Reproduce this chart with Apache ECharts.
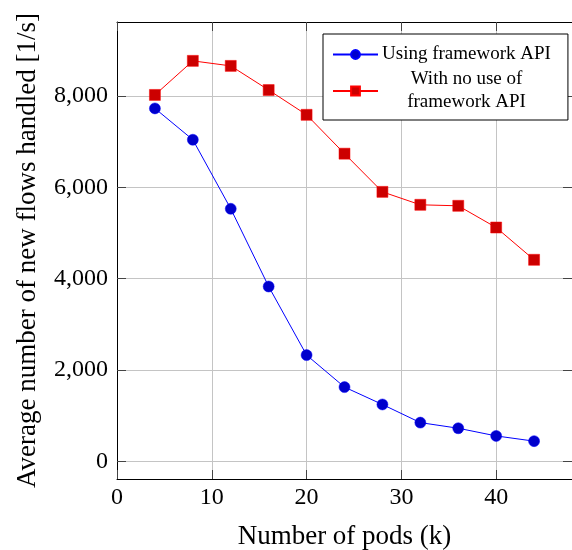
<!DOCTYPE html>
<html>
<head>
<meta charset="utf-8">
<script src="https://cdn.jsdelivr.net/npm/echarts@6/dist/echarts.min.js"></script>
<style>
html,body{margin:0;padding:0;background:#fff;}
#chart{width:572px;height:550px;}
</style>
</head>
<body>
<div id="chart"></div>
<script>
const pods = [4, 8, 12, 16, 20, 24, 28, 32, 36, 40, 44];
const usingApi = [7725, 7040, 5530, 3830, 2330, 1630, 1250, 853, 730, 562, 448];
const noApi = [8020, 8765, 8655, 8127, 7585, 6735, 5900, 5617, 5595, 5120, 4414];
const seriesNames = ['Using framework API', 'With no use of\nframework API'];
const xTicks = [0, 10, 20, 30, 40];
const yTicks = [0, 2000, 4000, 6000, 8000];

const FONT = 'Liberation Serif';
const chart = echarts.init(document.getElementById('chart'), null, {renderer: 'canvas'});

function pairs(xs, ys) { return xs.map((x, i) => [x, ys[i]]); }

const axisLineStyle = {show: true, onZero: false, lineStyle: {color: '#000', width: 1}};
function tickStyle(vals) {
  return {show: true, inside: true, length: 9, customValues: vals, lineStyle: {color: '#444', width: 1}};
}

chart.setOption({
  animation: false,
  grid: {left: 117, top: 22, right: 0, bottom: 71, containLabel: false, outerBoundsMode: 'none'},
  legend: {
    orient: 'vertical',
    left: 323,
    top: 34,
    padding: [11, 17, 8, 9],
    itemGap: 6,
    itemWidth: 45,
    itemHeight: 11,
    backgroundColor: '#fff',
    borderColor: '#000',
    borderWidth: 1,
    data: seriesNames,
    formatter: function (name) {
      return name.split('\n').map(s => '{t|' + s + '}').join('\n');
    },
    textStyle: {
      fontFamily: FONT,
      fontSize: 19,
      color: '#000',
      rich: {t: {fontFamily: FONT, fontSize: 19, color: '#000', width: 167, align: 'center', lineHeight: 23}}
    }
  },
  xAxis: [{
    type: 'value',
    min: 0, max: 48,
    name: 'Number of pods (k)',
    nameLocation: 'middle',
    nameGap: 44,
    nameTextStyle: {fontFamily: FONT, fontSize: 27, color: '#000'},
    axisLine: axisLineStyle,
    axisTick: tickStyle(xTicks),
    axisLabel: {fontFamily: FONT, fontSize: 24, color: '#000', margin: 7, customValues: xTicks,
      formatter: v => String(v)},
    splitLine: {show: true, lineStyle: {color: '#c4c4c4', width: 1}}
  }, {
    type: 'value', position: 'top',
    min: 0, max: 48,
    axisLine: axisLineStyle,
    axisTick: tickStyle(xTicks),
    axisLabel: {show: false},
    splitLine: {show: false}
  }],
  yAxis: [{
    type: 'value',
    min: -380, max: 9615,
    name: 'Average number of new flows handled [1/s]',
    nameLocation: 'middle',
    nameGap: 76,
    nameTextStyle: {fontFamily: FONT, fontSize: 27, color: '#000'},
    axisLine: axisLineStyle,
    axisTick: tickStyle(yTicks),
    axisLabel: {fontFamily: FONT, fontSize: 24, color: '#000', margin: 9, customValues: yTicks,
      formatter: v => v.toLocaleString('en-US')},
    splitLine: {show: true, lineStyle: {color: '#c4c4c4', width: 1}}
  }, {
    type: 'value', position: 'right',
    min: -380, max: 9615,
    axisLine: axisLineStyle,
    axisTick: tickStyle(yTicks),
    axisLabel: {show: false},
    splitLine: {show: false}
  }],
  series: [{
    name: seriesNames[0],
    type: 'line',
    data: pairs(pods, usingApi),
    symbol: 'circle',
    symbolSize: 11,
    lineStyle: {color: '#0000ff', width: 1},
    itemStyle: {color: '#0000cc', borderColor: '#0000ff', borderWidth: 0.5},
    z: 3
  }, {
    name: seriesNames[1],
    type: 'line',
    data: pairs(pods, noApi),
    symbol: 'rect',
    symbolSize: 11,
    lineStyle: {color: '#ff0000', width: 1},
    itemStyle: {color: '#cc0000', borderColor: '#ff0000', borderWidth: 0.5},
    z: 3
  }]
});
</script>
</body>
</html>
